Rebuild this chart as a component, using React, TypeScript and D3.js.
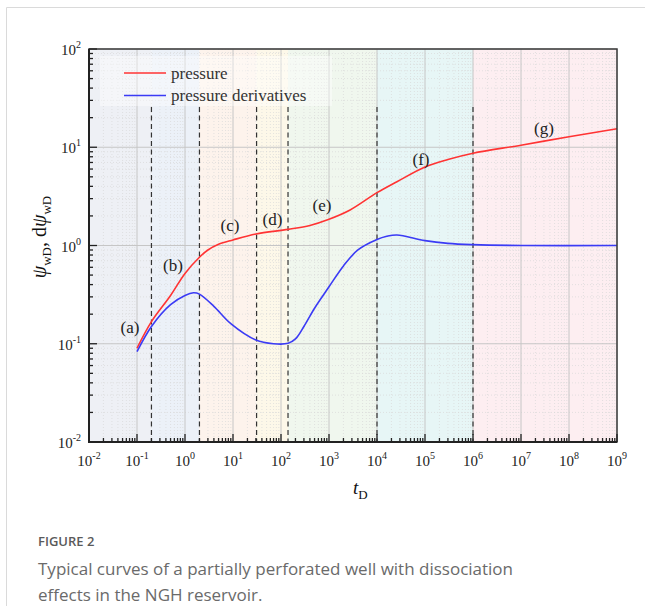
import React, { useEffect, useRef } from 'react';
import * as d3 from 'd3';

// pressure curve (tD, psi_wD)
const pressure: [number, number][] = [
  [0.1, 0.09], [0.2, 0.168], [0.5, 0.31], [1, 0.52], [2, 0.76], [3, 0.9], [5, 1.03],
  [10, 1.14], [30, 1.31], [140, 1.46], [400, 1.6], [1000, 1.85], [2750, 2.3],
  [1e4, 3.45], [2.6e4, 4.46], [1e5, 6.3], [3e5, 7.5], [1e6, 8.7], [1e7, 10.5], [1e8, 12.8], [1e9, 15.4],
];

// pressure derivative curve
const derivative: [number, number][] = [
  [0.1, 0.083], [0.2, 0.15], [0.5, 0.25], [1, 0.31], [1.5, 0.33], [2, 0.32], [4, 0.24],
  [9, 0.16], [30, 0.109], [70, 0.1], [140, 0.101], [200, 0.112], [300, 0.15], [500, 0.23],
  [1000, 0.38], [2000, 0.62], [4000, 0.9], [1e4, 1.15], [1.6e4, 1.24], [2.6e4, 1.28],
  [1e5, 1.12], [3e5, 1.05], [1e6, 1.02], [1e7, 1.0], [1e9, 1.0],
];

// flow regime boundaries
const boundaries = [0.2, 2, 31, 140, 1e4, 1e6];
const bandEdges = [0.01, 0.2, 2, 31, 140, 1e4, 1e6, 1e9];
const bandColors = ['#eef0f5', '#ecf1f8', '#fdf3ec', '#fdf8e9', '#f0f7ee', '#e7f6f6', '#fdeef1'];

// regime labels (text, tD, value)
const stageLabels: [string, number, number][] = [
  ['(a)', 0.0715, 0.129], ['(b)', 0.56, 0.55], ['(c)', 8.66, 1.4], ['(d)', 66.5, 1.62],
  ['(e)', 714, 2.24], ['(f)', 8.26e4, 6.6], ['(g)', 3.0e7, 13.6],
];

const xExponents = d3.range(-2, 10);
const yExponents = d3.range(-2, 3);
const legendItems = [['pressure', '#ff3333'], ['pressure derivatives', '#3b3bf5']];

const serif = '"Liberation Serif", "Times New Roman", serif';

const App = () => {
  const ref = useRef<SVGSVGElement>(null);

  useEffect(() => {
    const svg = d3.select(ref.current);
    svg.selectAll('*').remove();

    const margin = { left: 89, top: 49, right: 617, bottom: 442 };
    const x = d3.scaleLog().domain([1e-2, 1e9]).range([margin.left, margin.right]);
    const y = d3.scaleLog().domain([1e-2, 1e2]).range([margin.bottom, margin.top]);

    // outer frame of the figure
    svg.append('path').attr('d', 'M6.5,606 V7.5 H645').attr('fill', 'none').attr('stroke', '#dadada');

    // coloured bands
    svg.append('g').selectAll('rect')
      .data(bandColors)
      .enter().append('rect')
      .attr('x', (d, i) => x(bandEdges[i]))
      .attr('width', (d, i) => x(bandEdges[i + 1]) - x(bandEdges[i]))
      .attr('y', margin.top)
      .attr('height', margin.bottom - margin.top)
      .attr('fill', d => d);

    // grid
    const grid = svg.append('g');
    xExponents.slice(0, -1).forEach(e => {
      d3.range(2, 10).forEach(m => {
        grid.append('line').attr('x1', x(m * 10 ** e)).attr('x2', x(m * 10 ** e))
          .attr('y1', margin.top).attr('y2', margin.bottom)
          .attr('stroke', '#d8d8d8').attr('stroke-width', 0.7).attr('stroke-dasharray', '1,2');
      });
    });
    yExponents.slice(0, -1).forEach(e => {
      d3.range(2, 10).forEach(m => {
        grid.append('line').attr('y1', y(m * 10 ** e)).attr('y2', y(m * 10 ** e))
          .attr('x1', margin.left).attr('x2', margin.right)
          .attr('stroke', '#d8d8d8').attr('stroke-width', 0.7).attr('stroke-dasharray', '1,2');
      });
    });
    xExponents.forEach(e => {
      grid.append('line').attr('x1', x(10 ** e)).attr('x2', x(10 ** e))
        .attr('y1', margin.top).attr('y2', margin.bottom)
        .attr('stroke', '#c6c6c6').attr('stroke-width', 1);
    });
    yExponents.forEach(e => {
      grid.append('line').attr('y1', y(10 ** e)).attr('y2', y(10 ** e))
        .attr('x1', margin.left).attr('x2', margin.right)
        .attr('stroke', '#c6c6c6').attr('stroke-width', 1);
    });

    // legend background
    svg.append('rect').attr('x', 100).attr('y', 56).attr('width', 232).attr('height', 50)
      .attr('fill', '#ffffff').attr('opacity', 0.4);

    // regime boundaries
    svg.append('g').selectAll('line')
      .data(boundaries)
      .enter().append('line')
      .attr('x1', d => x(d)).attr('x2', d => x(d))
      .attr('y1', 107).attr('y2', margin.bottom)
      .attr('stroke', '#333').attr('stroke-width', 1.2).attr('stroke-dasharray', '5,3.5');

    // curves
    const line = d3.line<[number, number]>()
      .x(d => x(d[0]))
      .y(d => y(d[1]))
      .curve(d3.curveCatmullRom.alpha(0.5));

    svg.append('path').datum(pressure)
      .attr('fill', 'none').attr('stroke', legendItems[0][1]).attr('stroke-width', 1.6)
      .attr('d', line);
    svg.append('path').datum(derivative)
      .attr('fill', 'none').attr('stroke', legendItems[1][1]).attr('stroke-width', 1.6)
      .attr('d', line);

    // stage labels
    svg.append('g').selectAll('text')
      .data(stageLabels)
      .enter().append('text')
      .attr('x', d => x(d[1]))
      .attr('y', d => y(d[2]))
      .attr('text-anchor', 'middle')
      .attr('font-family', serif)
      .attr('font-size', 17)
      .attr('fill', '#222')
      .text(d => d[0]);

    // legend
    legendItems.forEach((item, i) => {
      svg.append('line').attr('x1', 124).attr('x2', 166)
        .attr('y1', 73 + i * 22.5).attr('y2', 73 + i * 22.5)
        .attr('stroke', item[1]).attr('stroke-width', 1.6);
      svg.append('text').attr('x', 171).attr('y', 78.5 + i * 22.5)
        .attr('font-family', serif).attr('font-size', 17).attr('fill', '#333')
        .text(item[0]);
    });

    // axes frame
    svg.append('rect').attr('x', margin.left).attr('y', margin.top)
      .attr('width', margin.right - margin.left).attr('height', margin.bottom - margin.top)
      .attr('fill', 'none').attr('stroke', '#3a3a3a').attr('stroke-width', 1.5);
    svg.append('path')
      .attr('d', `M${margin.left},${margin.top} V${margin.bottom} H${margin.right}`)
      .attr('fill', 'none').attr('stroke', '#222').attr('stroke-width', 2);

    // ticks (pointing inward)
    const ticks = svg.append('g').attr('stroke', '#222').attr('stroke-width', 1.3);
    xExponents.forEach((e, i) => {
      ticks.append('line').attr('x1', x(10 ** e)).attr('x2', x(10 ** e))
        .attr('y1', margin.bottom).attr('y2', margin.bottom - 8);
      if (i < xExponents.length - 1) {
        d3.range(2, 10).forEach(m => {
          ticks.append('line').attr('x1', x(m * 10 ** e)).attr('x2', x(m * 10 ** e))
            .attr('y1', margin.bottom).attr('y2', margin.bottom - 4);
        });
      }
    });
    yExponents.forEach((e, i) => {
      ticks.append('line').attr('y1', y(10 ** e)).attr('y2', y(10 ** e))
        .attr('x1', margin.left).attr('x2', margin.left + 8);
      if (i < yExponents.length - 1) {
        d3.range(2, 10).forEach(m => {
          ticks.append('line').attr('y1', y(m * 10 ** e)).attr('y2', y(m * 10 ** e))
            .attr('x1', margin.left).attr('x2', margin.left + 4);
        });
      }
    });

    // tick labels
    xExponents.forEach(e => {
      const t = svg.append('text').attr('x', x(10 ** e)).attr('y', margin.bottom + 24)
        .attr('text-anchor', 'middle').attr('font-family', serif).attr('font-size', 15)
        .attr('fill', '#222');
      t.append('tspan').text('10');
      t.append('tspan').attr('dy', -7).attr('font-size', 10).text(String(e));
    });
    yExponents.forEach(e => {
      const t = svg.append('text').attr('x', 81).attr('y', y(10 ** e) + 6)
        .attr('text-anchor', 'end').attr('font-family', serif).attr('font-size', 15)
        .attr('fill', '#222');
      t.append('tspan').text('10');
      t.append('tspan').attr('dy', -7).attr('font-size', 10).text(String(e));
    });

    // axis titles
    const xt = svg.append('text').attr('x', 353).attr('y', 494)
      .attr('font-family', serif).attr('font-size', 19).attr('fill', '#111');
    xt.append('tspan').attr('font-style', 'italic').text('t');
    xt.append('tspan').attr('dy', 5).attr('font-size', 13).text('D');

    const yt = svg.append('text').attr('transform', 'translate(46,237) rotate(-90)')
      .attr('text-anchor', 'middle')
      .attr('font-family', serif).attr('font-size', 20).attr('fill', '#111');
    yt.append('tspan').attr('font-style', 'italic').text('ψ');
    yt.append('tspan').attr('dy', 5).attr('font-size', 13).text('wD');
    yt.append('tspan').attr('dy', -5).text(',  d');
    yt.append('tspan').attr('font-style', 'italic').text('ψ');
    yt.append('tspan').attr('dy', 5).attr('font-size', 13).text('wD');

    // caption
    svg.append('text').attr('x', 38).attr('y', 546)
      .attr('font-family', '"Open Sans", sans-serif').attr('font-size', 13)
      .attr('font-weight', 600).attr('fill', '#5a5a5a').text('FIGURE 2');
    svg.append('text').attr('x', 38).attr('y', 575)
      .attr('font-family', '"Open Sans", sans-serif').attr('font-size', 17)
      .attr('fill', '#6a6a6a').text('Typical curves of a partially perforated well with dissociation');
    svg.append('text').attr('x', 38).attr('y', 601)
      .attr('font-family', '"Open Sans", sans-serif').attr('font-size', 17)
      .attr('fill', '#6a6a6a').text('effects in the NGH reservoir.');
  }, []);

  return (
    <svg ref={ref} width={645} height={606}
      style={{ position: 'absolute', left: 0, top: 0, background: '#fff' }} />
  );
};

export default App;
